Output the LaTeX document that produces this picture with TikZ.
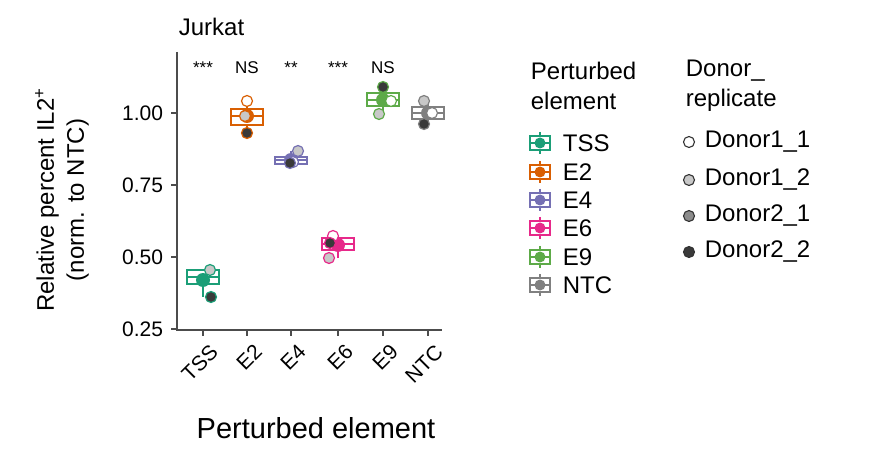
\documentclass[tikz,border=0pt]{standalone}
\usepackage{fontspec}
\setmainfont{Liberation Sans}
\usetikzlibrary{calc}
\definecolor{cTSS}{HTML}{1B9E77}
\definecolor{cEtwo}{HTML}{D95F02}
\definecolor{cEfour}{HTML}{7570B3}
\definecolor{cEsix}{HTML}{E7298A}
\definecolor{cEnine}{HTML}{5DAA48}
\definecolor{cNTC}{HTML}{808080}
\definecolor{dOne}{HTML}{FFFFFF}
\definecolor{dTwo}{HTML}{C8C8C8}
\definecolor{dThree}{HTML}{8C8C8C}
\definecolor{dFour}{HTML}{3A3A3A}
\tikzset{
  lbl/.style={font=\fontsize{24}{30}\selectfont,inner sep=0pt},
  tick/.style={font=\fontsize{21}{23}\selectfont,inner sep=0pt},
  stat/.style={font=\fontsize{17}{19}\selectfont,inner sep=0pt},
  pt/.style={circle,inner sep=0pt,minimum size=11pt,draw,line width=1.2pt}
}
\begin{document}
\begin{tikzpicture}[x=1pt,y=-1pt,line width=1.8pt]
\useasboundingbox (0,0) rectangle (881,449);
% axes
\draw[line width=1.3pt,black!70] (177,52) -- (177,330) -- (442,330);
\foreach \y/\t in {113/1.00,185/0.75,257/0.50,329/0.25}{
\draw[line width=1.3pt,black!70] (177,\y) -- (171,\y);
\node[tick,anchor=east] at (164,\y) {\t};
}
\foreach \x/\t in {203/TSS,247/E2,291/E4,338/E6,383/E9,428/NTC}{
\draw[line width=1.3pt,black!70] (\x,330) -- (\x,336);
\node[tick,anchor=north east,rotate=45] at (\x+6,342) {\t};
}
\node[lbl,anchor=west] (title) at (178,27) {Jurkat};
\node[lbl,rotate=90,align=center] (ylab) at (62,200) {Relative percent IL2\textsuperscript{+}\\(norm. to NTC)};
\node[font=\fontsize{29}{31}\selectfont] (xlab) at (316,428) {Perturbed element};
% stats
\foreach \x/\t in {203/***,247/NS,291/**,338/***,383/NS}
\node[stat] at (\x,68) {\t};
% boxes: x, colour, box top, median, box bottom, whisker top, whisker bottom, mean
\foreach \x/\c/\a/\m/\b/\wt/\wb/\mn in {
  203/cTSS/270/277/284/270/297/280,
  247/cEtwo/109/116/125/101/133/116,
  291/cEfour/157/160/164/151/163/160,
  338/cEsix/238/244/250/236/258/245,
  383/cEnine/93/100/106/87/114/100,
  428/cNTC/107/113/119/101/124/113}{
\draw[\c] (\x,\wt) -- (\x,\wb);
\draw[\c,fill=white] (\x-16,\a) rectangle (\x+16,\b);
\draw[\c] (\x-16,\m) -- (\x+16,\m);
\fill[\c] (\x,\mn) circle (7);
}
% donor points
\foreach \x/\y/\c/\d in {
  210/270/cTSS/dTwo, 211/297/cTSS/dFour,
  247/101/cEtwo/dOne, 245/116/cEtwo/dTwo, 247/133/cEtwo/dFour,
  298/151/cEfour/dTwo, 293/162/cEfour/dOne, 290/163/cEfour/dFour,
  333/236/cEsix/dOne, 330/243/cEsix/dFour, 329/258/cEsix/dTwo,
  383/87/cEnine/dFour, 391/101/cEnine/dOne, 379/114/cEnine/dTwo,
  424/101/cNTC/dTwo, 432/113/cNTC/dOne, 424/124/cNTC/dFour}
\node[pt,draw=\c,fill=\d] at (\x,\y) {};
% legend: perturbed element
\node[lbl,anchor=west,align=left] (legA) at (530,86) {Perturbed\\element};
\foreach \y/\c/\t in {143/cTSS/TSS,172/cEtwo/E2,200/cEfour/E4,228/cEsix/E6,257/cEnine/E9,285/cNTC/NTC}{
\draw[\c,line width=1.4pt] (540,\y-11) -- (540,\y+11);
\draw[\c,line width=1.4pt,fill=white] (530,\y-7) rectangle (550,\y+7);
\draw[\c,line width=1.4pt] (530,\y) -- (550,\y);
\fill[\c] (540,\y) circle (5.5);
\node[lbl,anchor=west] at (562,\y) {\t};
}
% legend: donor replicate
\node[lbl,anchor=west,align=left] (legB) at (685,86) {Donor\_\\replicate};
\foreach \y/\d/\t in {142/dOne/Donor1\_1,180/dTwo/Donor1\_2,216/dThree/Donor2\_1,252/dFour/Donor2\_2}{
\node[pt,draw=black!80,fill=\d,minimum size=11pt,line width=1.1pt] at (689,\y) {};
\node[lbl,anchor=west] at (704,\y) {\t};
}
\end{tikzpicture}
\end{document}
